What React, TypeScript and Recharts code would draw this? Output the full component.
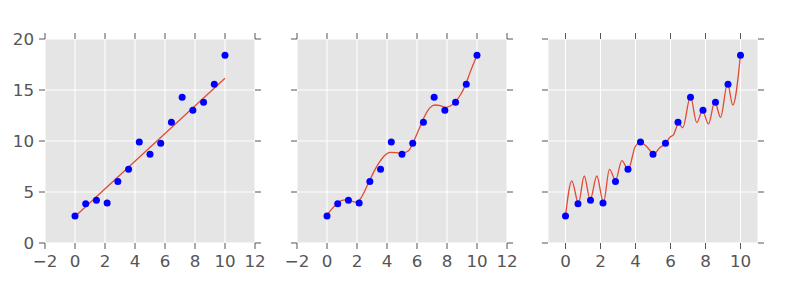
import React from 'react'
import { ComposedChart, Scatter, Line, XAxis, YAxis, CartesianGrid } from 'recharts'

// sample points (x = linspace(0, 10, 15))
const sampleX = [0, 0.714, 1.429, 2.143, 2.857, 3.571, 4.286, 5.0, 5.714, 6.429, 7.143, 7.857, 8.571, 9.286, 10]
const sampleY = [2.64, 3.85, 4.18, 3.92, 6.04, 7.24, 9.89, 8.71, 9.79, 11.84, 14.29, 13.02, 13.8, 15.56, 18.4]

// fitted curves
const fit1X = [0, 10]
const fit1Y = [2.6, 16.15]

const fit2X = [0, 0.3, 0.62, 0.95, 1.2, 1.5, 1.75, 1.98, 2.3, 2.75, 3.2, 3.52, 3.86, 4.2, 4.64, 4.95, 5.43, 5.76, 6.1, 6.55, 6.87, 7.2, 7.55, 7.88, 8.22, 8.56, 8.89, 9.23, 9.56, 10]
const fit2Y = [2.75, 3.3, 3.75, 4.15, 4.22, 4.15, 4.05, 3.99, 4.5, 5.85, 7.2, 7.97, 8.6, 8.88, 8.86, 8.78, 9.05, 9.9, 11.05, 12.55, 13.27, 13.53, 13.47, 13.3, 13.43, 13.86, 14.51, 15.5, 16.8, 18.4]

const fit3X = [0, 0.36, 0.74, 1.07, 1.41, 1.79, 2.17, 2.51, 2.86, 3.22, 3.58, 3.98, 4.27, 4.65, 5.03, 5.41, 5.7, 5.98, 6.17, 6.46, 6.7, 7.14, 7.5, 7.83, 8.17, 8.53, 8.86, 9.26, 9.56, 10]
const fit3Y = [2.65, 6.1, 3.9, 6.57, 4.25, 6.57, 3.95, 7.22, 6.15, 8.07, 7.2, 9.44, 9.87, 9.44, 8.73, 9.38, 9.71, 10.4, 10.6, 11.73, 11.3, 14.35, 11.8, 12.97, 11.67, 13.86, 12.32, 15.65, 13.53, 18.43]

const yTicks = [0, 5, 10, 15, 20]
const xTicksWide = [-2, 0, 2, 4, 6, 8, 10, 12]
const xTicksNarrow = [0, 2, 4, 6, 8, 10]

const zip = (xs: number[], ys: number[]) => xs.map((x, i) => ({ x, y: ys[i] }))

const fmt = (v: number) => (v < 0 ? '\u2212' + Math.abs(v) : String(v))
const blank = () => ''

// custom tick labels so the font size is exactly what matplotlib used
const XTick = (props: any) => (
  <text x={props.x} y={props.y + 12} textAnchor="middle" fill="#555555" fontSize={16.7} fontFamily="DejaVu Sans">
    {fmt(props.payload.value)}
  </text>
)
const YTick = (props: any) => (
  <text x={props.x} y={props.y + 6} textAnchor="end" fill="#555555" fontSize={16.7} fontFamily="DejaVu Sans">
    {fmt(props.payload.value)}
  </text>
)
const NoLabel = () => <g />

const Dot = (props: any) => <circle cx={props.cx} cy={props.cy} r={3.5} fill="#0000FF" />

interface PanelProps {
  left: number
  fit: { x: number; y: number }[]
  curve: 'linear' | 'monotone'
  xDomain: [number, number]
  xTicks: number[]
  showY: boolean
}

const Panel = ({ left, fit, curve, xDomain, xTicks, showY }: PanelProps) => (
  <div style={{ position: 'absolute', left, top: 0 }}>
    <ComposedChart width={272} height={290} margin={{ top: 33, right: 10, bottom: 7, left: 0 }}>
      <CartesianGrid stroke="#FFFFFF" strokeWidth={1} fill="#E5E5E5" fillOpacity={1} />
      <XAxis
        xAxisId={0}
        dataKey="x"
        type="number"
        domain={xDomain}
        ticks={xTicks}
        allowDataOverflow
        axisLine={false}
        tickSize={6}
        tickMargin={6}
        tickLine={{ stroke: '#555555' }}
        tick={<XTick />}
        height={40}
        interval={0}
      />
      <XAxis
        xAxisId="top"
        orientation="top"
        dataKey="x"
        type="number"
        domain={xDomain}
        ticks={xTicks}
        allowDataOverflow
        axisLine={false}
        tickSize={6}
        tickLine={{ stroke: '#555555' }}
        tickFormatter={blank}
        height={6}
        interval={0}
      />
      <YAxis
        yAxisId={0}
        type="number"
        domain={[0, 20]}
        ticks={yTicks}
        allowDataOverflow
        axisLine={false}
        tickSize={6}
        tickMargin={5}
        tickLine={{ stroke: '#555555' }}
        tick={showY ? <YTick /> : <NoLabel />}
        width={46}
        interval={0}
      />
      <YAxis
        yAxisId="right"
        orientation="right"
        type="number"
        domain={[0, 20]}
        ticks={yTicks}
        allowDataOverflow
        axisLine={false}
        tickSize={6}
        tickLine={{ stroke: '#555555' }}
        tickFormatter={blank}
        width={6}
        interval={0}
      />
      <Scatter data={zip(sampleX, sampleY)} dataKey="y" shape={Dot} isAnimationActive={false} />
      <Line
        data={fit}
        dataKey="y"
        type={curve}
        stroke="#E24A33"
        strokeWidth={1.3}
        dot={false}
        activeDot={false}
        isAnimationActive={false}
      />
    </ComposedChart>
  </div>
)

export default function App() {
  return (
    <div style={{ position: 'absolute', left: 0, top: 0, width: 793, height: 290, background: '#FFFFFF' }}>
      <Panel left={-1} fit={zip(fit1X, fit1Y)} curve="linear" xDomain={[-2, 12]} xTicks={xTicksWide} showY />
      <Panel left={251} fit={zip(fit2X, fit2Y)} curve="monotone" xDomain={[-2, 12]} xTicks={xTicksWide} showY={false} />
      <Panel left={502} fit={zip(fit3X, fit3Y)} curve="monotone" xDomain={[-1, 11]} xTicks={xTicksNarrow} showY={false} />
    </div>
  )
}
